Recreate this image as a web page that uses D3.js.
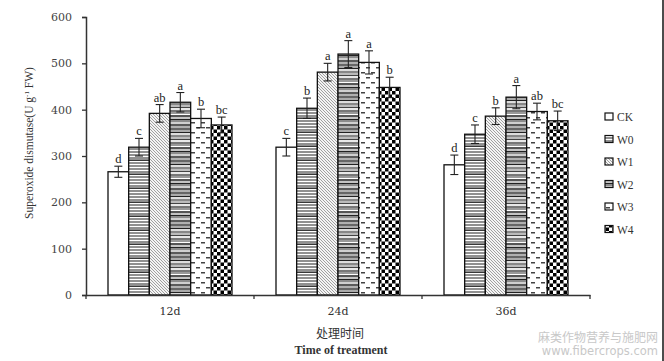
<!DOCTYPE html>
<html><head><meta charset="utf-8">
<script src="https://cdn.jsdelivr.net/npm/d3@7/dist/d3.min.js"></script>
<style>body{margin:0;background:#fff}svg{display:block}</style>
</head><body>
<svg id="c" width="664" height="361"></svg>
<script>
const categories = ['12d','24d','36d'];
const series = ['CK','W0','W1','W2','W3','W4'];
const valCK = [266,319,281];
const valW0 = [319,403,347];
const valW1 = [392,481,386];
const valW2 = [416,520,427];
const valW3 = [381,502,396];
const valW4 = [367,448,376];
const errCK = [12,19,21];
const errW0 = [19,22,20];
const errW1 = [19,19,18];
const errW2 = [21,29,25];
const errW3 = [20,25,18];
const errW4 = [17,22,21];
const letCK = ['d','c','d'];
const letW0 = ['c','b','c'];
const letW1 = ['ab','a','b'];
const letW2 = ['a','a','a'];
const letW3 = ['b','a','ab'];
const letW4 = ['bc','b','bc'];
const yTicks = [0,100,200,300,400,500,600];

const vals = [valCK,valW0,valW1,valW2,valW3,valW4];
const errs = [errCK,errW0,errW1,errW2,errW3,errW4];
const lets = [letCK,letW0,letW1,letW2,letW3,letW4];

const svg = d3.select('#c');
const defs = svg.append('defs');

// W0 horizontal lines irregular
let p = defs.append('pattern').attr('id','pW0').attr('patternUnits','userSpaceOnUse').attr('width',8).attr('height',14);
p.append('rect').attr('width',8).attr('height',14).attr('fill','#fff');
[0.5,3.5,5.5,8.5,11.5].forEach((yy,i)=>p.append('rect').attr('x',0).attr('y',yy).attr('width',8).attr('height',i===2?1.4:1).attr('fill','#222'));
// W1 diagonal
p = defs.append('pattern').attr('id','pW1').attr('patternUnits','userSpaceOnUse').attr('width',3).attr('height',3);
p.append('rect').attr('width',3).attr('height',3).attr('fill','#f4f4f4');
p.append('path').attr('d','M-1,-1 L4,4 M-1,2 L1,4 M2,-1 L4,1').attr('stroke','#8a8a8a').attr('stroke-width',0.8);
// W2 gray bands
p = defs.append('pattern').attr('id','pW2').attr('patternUnits','userSpaceOnUse').attr('width',8).attr('height',32);
const bands = [['#666',2],['#aaa',2],['#222',1],['#ddd',2],['#888',2],['#bbb',2],['#444',1],['#e8e8e8',2],['#777',2],['#999',2],['#fff',1],['#555',2],['#c4c4c4',2],['#222',1],['#8c8c8c',2],['#d0d0d0',2],['#5a5a5a',2],['#b0b0b0',2]];
let yy=0; bands.forEach(([c,h])=>{p.append('rect').attr('x',0).attr('y',yy).attr('width',8).attr('height',h).attr('fill',c); yy+=h;});
// W3 dashes
p = defs.append('pattern').attr('id','pW3').attr('patternUnits','userSpaceOnUse').attr('width',10).attr('height',10);
p.append('rect').attr('width',10).attr('height',10).attr('fill','#fff');
p.append('rect').attr('x',1).attr('y',2).attr('width',4).attr('height',1.5).attr('fill','#444');
p.append('rect').attr('x',6).attr('y',7).attr('width',4).attr('height',1.5).attr('fill','#444');
// W4 checker
p = defs.append('pattern').attr('id','pW4').attr('patternUnits','userSpaceOnUse').attr('width',7).attr('height',7);
p.append('rect').attr('width',7).attr('height',7).attr('fill','#fff');
p.append('rect').attr('width',3.5).attr('height',3.5).attr('fill','#000');
p.append('rect').attr('x',3.5).attr('y',3.5).attr('width',3.5).attr('height',3.5).attr('fill','#000');
const fills = {CK:'#fff',W0:'url(#pW0)',W1:'url(#pW1)',W2:'url(#pW2)',W3:'url(#pW3)',W4:'url(#pW4)'};

const x0 = d3.scaleBand().domain(categories).range([86,590]).paddingInner(0).paddingOuter(0);
const x1 = d3.scaleBand().domain(series).range([22, x0.bandwidth()-22]);
const y = d3.scaleLinear().domain([0,600]).range([295,17]);

const serif = '"Liberation Serif","Times New Roman",serif';

series.forEach((s,si)=>{
  categories.forEach((c,ci)=>{
    const v = vals[si][ci], e = errs[si][ci];
    const bx = x0(c)+x1(s), bw = x1.bandwidth();
    svg.append('rect').attr('x',bx).attr('y',y(v)).attr('width',bw).attr('height',y(0)-y(v))
      .attr('fill',fills[s]).attr('stroke','#111').attr('stroke-width',1.3);
    const cx = bx+bw/2;
    const g = svg.append('g').attr('stroke','#222').attr('stroke-width',1.1);
    g.append('line').attr('x1',cx).attr('x2',cx).attr('y1',y(v+e)).attr('y2',y(v-e));
    g.append('line').attr('x1',cx-4).attr('x2',cx+4).attr('y1',y(v+e)).attr('y2',y(v+e));
    g.append('line').attr('x1',cx-4).attr('x2',cx+4).attr('y1',y(v-e)).attr('y2',y(v-e));
    svg.append('text').attr('x',cx).attr('y',y(v+e)-3).attr('text-anchor','middle')
      .attr('font-family',serif).attr('font-size',12.5).attr('fill','#222').text(lets[si][ci]);
  });
});

const ya = svg.append('g').attr('transform','translate(86,0)')
  .call(d3.axisLeft(y).tickValues(yTicks).tickSize(4).tickPadding(10));
ya.select('.domain').attr('stroke','#333').attr('stroke-width',1.5);
ya.selectAll('.tick line').attr('stroke','#333').attr('stroke-width',1.3);
ya.selectAll('text').attr('font-family','"DejaVu Serif",serif').attr('font-size',11).attr('fill','#444');

const xa = svg.append('g').attr('transform','translate(0,295)')
  .call(d3.axisBottom(x0).tickSize(0).tickPadding(12));
xa.select('.domain').attr('stroke','#333').attr('stroke-width',1.5);
xa.selectAll('text').attr('font-family','"DejaVu Serif",serif').attr('font-size',11).attr('fill','#333');
const seps = categories.map(c=>x0(c)).concat([x0.range()[1]]);
svg.selectAll('line.sep').data(seps).enter().append('line').attr('class','sep')
  .attr('x1',d=>d).attr('x2',d=>d).attr('y1',295).attr('y2',299).attr('stroke','#333').attr('stroke-width',1.3);

const yt = svg.append('text').attr('transform','translate(33,143) rotate(-90)').attr('text-anchor','middle')
  .attr('font-family',serif).attr('font-size',11.5).attr('fill','#333');
yt.append('tspan').text('Superoxide dismutase(U g');
yt.append('tspan').attr('font-size',7).attr('dy',-4).text('-1');
yt.append('tspan').attr('dy',4).text(' FW)');

svg.append('text').attr('x',340).attr('y',338).attr('text-anchor','middle')
  .attr('font-family','"Noto Sans CJK SC",sans-serif').attr('font-size',12).attr('fill','#333').text('处理时间');
svg.append('text').attr('x',341).attr('y',354).attr('text-anchor','middle')
  .attr('font-family',serif).attr('font-weight','bold').attr('font-size',12).attr('fill','#333').text('Time of treatment');

const lg = svg.append('g');
series.forEach((s,i)=>{
  const ly = 117 + i*22.5;
  lg.append('rect').attr('x',605).attr('y',ly-4).attr('width',8).attr('height',7)
    .attr('fill',fills[s]).attr('stroke','#111').attr('stroke-width',1.2);
  lg.append('text').attr('x',617).attr('y',ly+4).attr('font-family',serif).attr('font-size',11.5)
    .attr('fill','#333').text(s);
});

svg.append('text').attr('x',658).attr('y',342).attr('text-anchor','end')
  .attr('font-family','"Noto Sans CJK SC",sans-serif').attr('font-size',12).attr('fill','#c8c8c8').text('麻类作物营养与施肥网');
svg.append('text').attr('x',658).attr('y',355).attr('text-anchor','end')
  .attr('font-family','"DejaVu Sans",sans-serif').attr('font-size',11.5).attr('fill','#c8c8c8').text('www.fibercrops.com');

svg.append('line').attr('x1',663).attr('x2',663).attr('y1',0).attr('y2',361).attr('stroke','#111').attr('stroke-width',1.5);
</script>
</body></html>
